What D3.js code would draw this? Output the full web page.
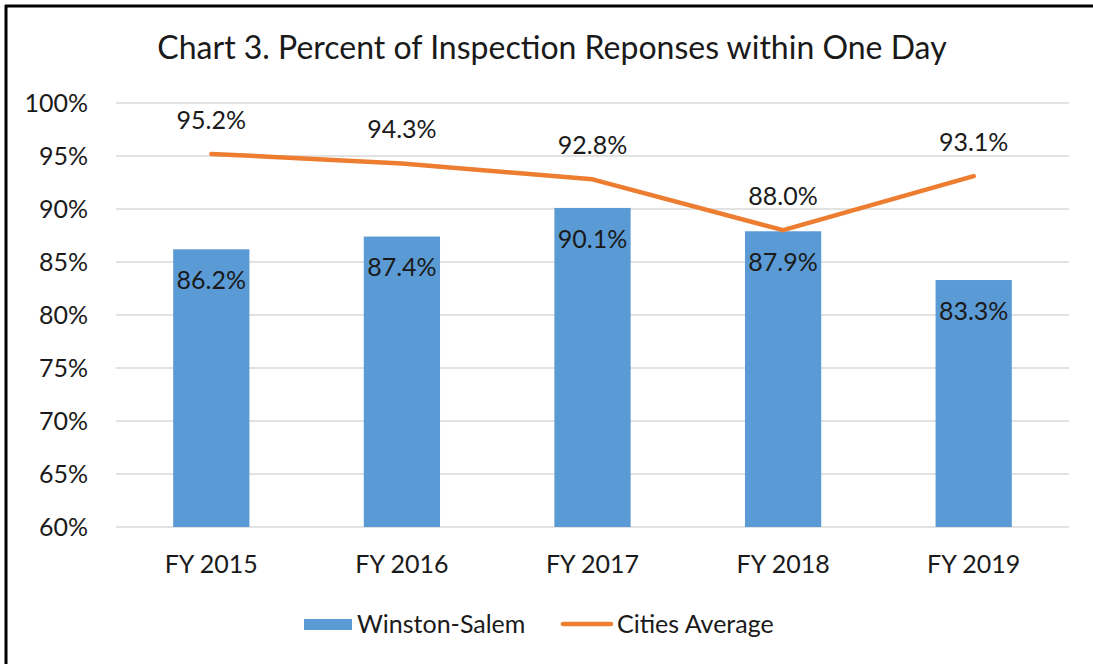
<!DOCTYPE html>
<html>
<head>
<meta charset="utf-8">
<script src="https://cdn.jsdelivr.net/npm/d3@7"></script>
<style>
  html, body { margin: 0; padding: 0; background: #fff; overflow: hidden; width: 1093px; height: 664px; }
  svg { display: block; }
  text { font-family: Lato, "Open Sans", sans-serif; fill: #1a1a1a; }
</style>
</head>
<body>
<svg id="chart"></svg>
<script>
// data
const years = ["FY 2015", "FY 2016", "FY 2017", "FY 2018", "FY 2019"];
const winstonSalem = [86.2, 87.4, 90.1, 87.9, 83.3];
const citiesAvg = [95.2, 94.3, 92.8, 88.0, 93.1];
const yTicks = [60, 65, 70, 75, 80, 85, 90, 95, 100];

const W = 1093, H = 664;
const svg = d3.select("#chart").attr("width", W).attr("height", H);

// frame - only top and left edges show in the picture
svg.append("line").attr("x1", 6).attr("x2", 6).attr("y1", 5).attr("y2", H)
  .attr("stroke", "#000").attr("stroke-width", 3);
svg.append("line").attr("x1", 5).attr("x2", W).attr("y1", 6).attr("y2", 6)
  .attr("stroke", "#000").attr("stroke-width", 3);

const plotL = 116, plotR = 1069, plotT = 103, plotB = 527;

const x = d3.scaleBand().domain(years).range([plotL, plotR]).paddingInner(0.6).paddingOuter(0.3);
const y = d3.scaleLinear().domain([60, 100]).range([plotB, plotT]);

// title
svg.append("text")
  .attr("x", 552).attr("y", 48)
  .attr("dy", "0.35em")
  .attr("text-anchor", "middle")
  .style("font-size", "32px")
  .text("Chart 3. Percent of Inspection Reponses within One Day");

// gridlines
svg.append("g").selectAll("line")
  .data(yTicks)
  .join("line")
  .attr("x1", plotL).attr("x2", plotR)
  .attr("y1", d => y(d)).attr("y2", d => y(d))
  .attr("stroke", "#d9d9d9").attr("stroke-width", 1.5);

// y labels
svg.append("g").selectAll("text")
  .data(yTicks)
  .join("text")
  .attr("x", 88).attr("y", d => y(d))
  .attr("dy", "0.35em")
  .attr("text-anchor", "end")
  .style("font-size", "25px")
  .text(d => d + "%");

// x labels
svg.append("g").selectAll("text")
  .data(years)
  .join("text")
  .attr("x", d => x(d) + x.bandwidth() / 2)
  .attr("y", 564)
  .attr("dy", "0.35em")
  .attr("text-anchor", "middle")
  .style("font-size", "25px")
  .text(d => d);

// bars
svg.append("g").selectAll("rect")
  .data(winstonSalem)
  .join("rect")
  .attr("x", (d, i) => x(years[i]))
  .attr("y", d => y(d))
  .attr("width", x.bandwidth())
  .attr("height", d => y(60) - y(d))
  .attr("fill", "#5b9bd5");

svg.append("g").selectAll("text")
  .data(winstonSalem)
  .join("text")
  .attr("x", (d, i) => x(years[i]) + x.bandwidth() / 2)
  .attr("y", d => y(d) + 31)
  .attr("dy", "0.35em")
  .attr("text-anchor", "middle")
  .style("font-size", "25px")
  .text(d => d.toFixed(1) + "%");

// line
const line = d3.line()
  .x((d, i) => x(years[i]) + x.bandwidth() / 2)
  .y(d => y(d));

svg.append("path")
  .datum(citiesAvg)
  .attr("d", line)
  .attr("fill", "none")
  .attr("stroke", "#ed7d31")
  .attr("stroke-width", 4.5)
  .attr("stroke-linecap", "round")
  .attr("stroke-linejoin", "round");

svg.append("g").selectAll("text")
  .data(citiesAvg)
  .join("text")
  .attr("x", (d, i) => x(years[i]) + x.bandwidth() / 2)
  .attr("y", d => y(d) - 34)
  .attr("dy", "0.35em")
  .attr("text-anchor", "middle")
  .style("font-size", "25px")
  .text(d => d.toFixed(1) + "%");

// legend
const lg = svg.append("g");
lg.append("rect").attr("x", 304).attr("y", 619).attr("width", 48).attr("height", 11).attr("fill", "#5b9bd5");
lg.append("text").attr("x", 357).attr("y", 624).attr("dy", "0.35em").style("font-size", "25px").text("Winston-Salem");
lg.append("line").attr("x1", 563).attr("x2", 611).attr("y1", 624).attr("y2", 624)
  .attr("stroke", "#ed7d31").attr("stroke-width", 4.5).attr("stroke-linecap", "round");
lg.append("text").attr("x", 617).attr("y", 624).attr("dy", "0.35em").style("font-size", "25px").text("Cities Average");
</script>
</body>
</html>
